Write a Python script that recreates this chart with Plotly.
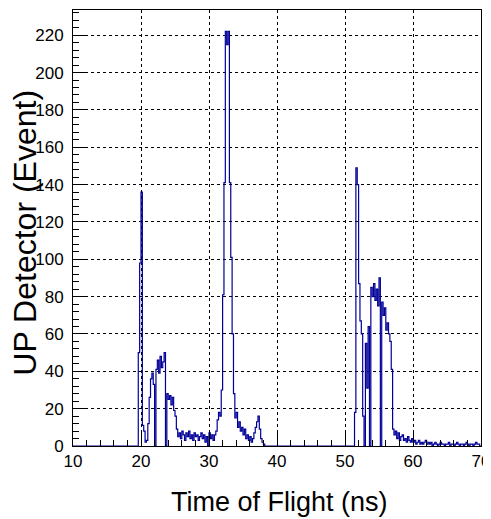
import numpy as np
import plotly.graph_objects as go

# histogram binning (ns)
tof_min = 10.0
tof_max = 70.0
bin_width = 0.2

# counts, first filled bin of each block given by its low edge
block1_start = 19.4
block1_counts = [0, 50, 98, 136, 11, 8, 2, 3, 12, 26, 36, 39, 33, 0, 41, 46, 39, 48, 42, 45,
                 50, 0, 28, 25, 27, 22, 26, 19, 16, 9, 5, 7, 4, 8, 6, 3, 7, 5, 8, 4,
                 6, 3, 7, 5, 6, 3, 5, 7, 4, 6, 2, 5, 0, 7, 4, 6, 3, 6, 8, 14,
                 18, 16, 30, 81, 141, 222, 215, 222, 141, 101, 60, 28, 15, 18, 10, 13, 8, 10, 6, 9,
                 4, 6, 3, 5, 2, 4, 7, 10, 13, 16, 9, 4, 2, 1]

block2_start = 51.2
block2_counts = [0, 18, 149, 140, 87, 67, 60, 16, 0, 55, 31, 64, 0, 85, 80, 87, 78, 84, 75, 90,
                 0, 77, 70, 74, 62, 66, 60, 56, 41, 9, 6, 8, 4, 7, 3, 5, 6, 3, 4, 2,
                 5, 3, 2, 4, 2, 3, 1, 2, 3, 1, 2, 1, 2, 3, 1, 2, 1, 2, 0, 1,
                 2, 1, 0, 1, 2, 1, 1, 0, 1, 1, 2, 0, 1, 1, 0, 1, 2, 1, 0, 1,
                 1, 0, 1, 2, 1, 0, 1, 1, 0, 1, 2, 1, 1, 0]

edges = np.round(np.arange(tof_min, tof_max + bin_width / 2, bin_width), 3)
counts = np.zeros(len(edges) - 1)
for start, vals in [(block1_start, block1_counts), (block2_start, block2_counts)]:
    i0 = int(round((start - tof_min) / bin_width))
    counts[i0:i0 + len(vals)] = vals

step_y = np.append(counts, counts[-1])

fig = go.Figure()
fig.add_trace(go.Scatter(x=edges, y=step_y, mode="lines", line_shape="hv",
                         line=dict(color="#000099", width=1.2), showlegend=False))

axis_font = dict(family="Liberation Sans, Arial, sans-serif", size=17, color="black")
fig.update_xaxes(range=[tof_min, tof_max], dtick=10, tick0=10, ticks="inside", ticklen=13,
                 tickcolor="black", minor=dict(ticks="inside", ticklen=6, dtick=2, tickcolor="black"),
                 showline=True, linecolor="black", linewidth=1, mirror=True,
                 showgrid=True, gridcolor="black", griddash="dot", gridwidth=1,
                 zeroline=False, tickfont=axis_font, automargin=False, ticklabeloverflow="allow")
fig.update_yaxes(range=[0, 233.5], dtick=20, tick0=0, ticks="inside", ticklen=12,
                 tickcolor="black", minor=dict(ticks="inside", ticklen=6, dtick=4, tickcolor="black"),
                 showline=True, linecolor="black", linewidth=1, mirror=True,
                 showgrid=True, gridcolor="black", griddash="dot", gridwidth=1,
                 zeroline=False, tickfont=axis_font, automargin=False, ticklabelstandoff=5)

fig.add_annotation(text="Time of Flight (ns)", xref="paper", yref="paper", x=0.507, y=-0.129,
                   showarrow=False, xanchor="center", yanchor="middle",
                   font=dict(family="Liberation Sans, Arial, sans-serif", size=27, color="black"))
fig.add_annotation(text="UP Detector (Event)", xref="paper", yref="paper", x=-0.118, y=0.489,
                   showarrow=False, textangle=-90, xanchor="center", yanchor="middle",
                   font=dict(family="Liberation Sans, Arial, sans-serif", size=32, color="black"))

# the page body adds 8px around the figure, so the figure is 8px smaller
fig.update_layout(width=483, height=511, margin=dict(l=65, r=10, t=2, b=72.5, autoexpand=False),
                  plot_bgcolor="white", paper_bgcolor="white")

fig.write_html("out.html")
